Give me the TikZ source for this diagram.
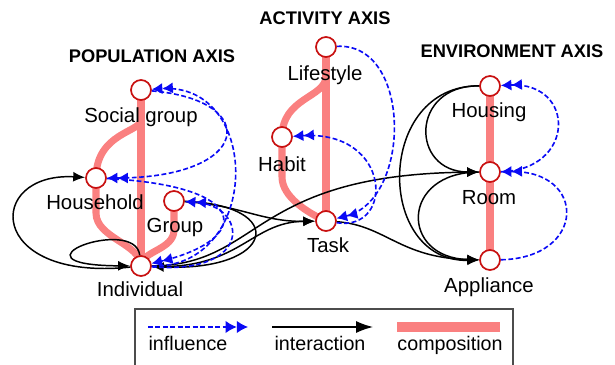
\documentclass[tikz,border=0pt]{standalone}
\usepackage{fontspec}
\setmainfont{Liberation Sans}
\usetikzlibrary{arrows.meta,backgrounds}
\definecolor{entred}{RGB}{200,16,16}
\definecolor{compo}{RGB}{250,128,128}
\definecolor{infblue}{RGB}{10,10,245}

\begin{document}
\begin{tikzpicture}[x=0.025cm,y=-0.025cm,
    ent/.style={circle,draw=entred,fill=white,line width=1.2pt,minimum size=0.5cm,inner sep=0pt},
    lbl/.style={anchor=base,inner sep=0pt,font=\fontsize{14.5}{17}\selectfont},
    leg/.style={anchor=base,inner sep=0pt,font=\fontsize{14}{16}\selectfont},
    axis/.style={anchor=base,inner sep=0pt,font=\fontsize{13}{15}\bfseries\selectfont},
    comp/.style={compo,line width=5pt},
    infl/.style={infblue,line width=1.15pt,dash pattern=on 3.5pt off 1.8pt,-{Latex[length=7.5pt,width=8pt]Latex[length=7.5pt,width=8pt]}},
    inter/.style={black,line width=1.05pt,-{Latex[length=8.5pt,width=7pt]}}]
      \useasboundingbox (0,0) rectangle (615,365);
      \node[axis] (POP) at (152,63) {POPULATION AXIS};
      \node[axis] (ACT) at (325,25) {ACTIVITY AXIS};
      \node[axis] (ENV) at (512,58) {ENVIRONMENT AXIS};
      \node[ent] (SG) at (141,90) {};
      \node[ent] (HH) at (96,178) {};
      \node[ent] (GR) at (174,201) {};
      \node[ent] (IN) at (141,266) {};
      \node[ent] (LS) at (326,47) {};
      \node[ent] (HB) at (282,137) {};
      \node[ent] (TK) at (326,221) {};
      \node[ent] (HS) at (490,86) {};
      \node[ent] (RM) at (490,172) {};
      \node[ent] (AP) at (490,260) {};
      \node[lbl] (SGl) at (141,123) {Social group};
      \node[lbl] (HHl) at (95,210) {Household};
      \node[lbl] (GRl) at (175,233) {Group};
      \node[lbl] (INl) at (140,297) {Individual};
      \node[lbl] (LSl) at (325,81) {Lifestyle};
      \node[lbl] (HBl) at (282,172) {Habit};
      \node[lbl] (TKl) at (328,253) {Task};
      \node[lbl] (HSl) at (489,118) {Housing};
      \node[lbl] (RMl) at (489,205) {Room};
      \node[lbl] (APl) at (489,293) {Appliance};
      \begin{scope}[on background layer]
        \draw[comp] (SG.center) -- (IN.center);
        \draw[comp] (SG.center) -- ++(0,30) .. controls +(0,12) and +(0,-45) .. (HH.center);
        \draw[comp] (HH.center) -- ++(0,35) .. controls +(0,25) and +(0,-22) .. (IN.center);
        \draw[comp] (GR.center) -- ++(0,29) .. controls +(0,20) and +(0,-15) .. (IN.center);
        \draw[comp] (LS.center) -- (TK.center);
        \draw[comp] (LS.center) -- ++(0,29) .. controls +(0,22) and +(0,-40) .. (HB.center);
        \draw[comp] (HB.center) -- ++(0,40) .. controls +(0,20) and +(-18,-8) .. (TK.center);
        \draw[comp] (HS.center) -- (AP.center);
      \end{scope}
      \draw[inter] (IN) .. controls (135,215) and (0,265) .. (IN);
      \draw[inter] (IN) .. controls (-15,282) and (-15,172) .. (HH);
      \draw[inter] (GR) .. controls (290,205) and (275,272) .. (IN);
      \draw[inter] (GR) .. controls (240,205) and (262,222) .. (TK);
      \draw[inter] (IN) .. controls (240,270) and (250,222) .. (TK);
      \draw[inter] (IN) .. controls (262,265) and (250,174) .. (RM);
      \draw[inter] (TK) .. controls (385,225) and (400,258) .. (AP);
      \draw[inter] (HS) .. controls (410,85) and (410,172) .. (RM);
      \draw[inter] (HS) .. controls (375,85) and (375,262) .. (AP);
      \draw[inter] (RM) .. controls (400,172) and (400,258) .. (AP);
      \draw[infl] (SG) .. controls (262,100) and (252,178) .. (HH);
      \draw[infl] (IN) .. controls (262,268) and (262,82) .. (SG);
      \draw[infl] (HH) .. controls (255,186) and (250,240) .. (IN);
      \draw[infl] (IN) .. controls (255,275) and (248,205) .. (GR);
      \draw[infl] (LS) .. controls (412,42) and (412,200) .. (TK);
      \draw[infl] (TK) .. controls (395,232) and (392,130) .. (HB);
      \draw[infl] (RM) .. controls (576,170) and (576,82) .. (HS);
      \draw[infl] (AP) .. controls (587,258) and (587,170) .. (RM);
      \draw[gray!60!black,line width=0.8pt] (135,309) rectangle (513,380);
      \coordinate (infA) at (148,327);
      \coordinate (infB) at (248,327);
      \coordinate (intA) at (272,327);
      \coordinate (intB) at (373,327);
      \coordinate (cmpA) at (397,327);
      \coordinate (cmpB) at (500,327);
      \draw[infl,-{Latex[length=8pt,width=9pt]Latex[length=8pt,width=9pt]}] (infA) -- (infB);
      \draw[inter,-{Latex[length=12pt,width=8.5pt]}] (intA) -- (intB);
      \draw[comp,line width=6.5pt] (cmpA) -- (cmpB);
      \node[leg] (infT) at (188,350) {influence};
      \node[leg] (intT) at (320,350) {interaction};
      \node[leg] (cmpT) at (450,350) {composition};
    \end{tikzpicture}
\end{document}
